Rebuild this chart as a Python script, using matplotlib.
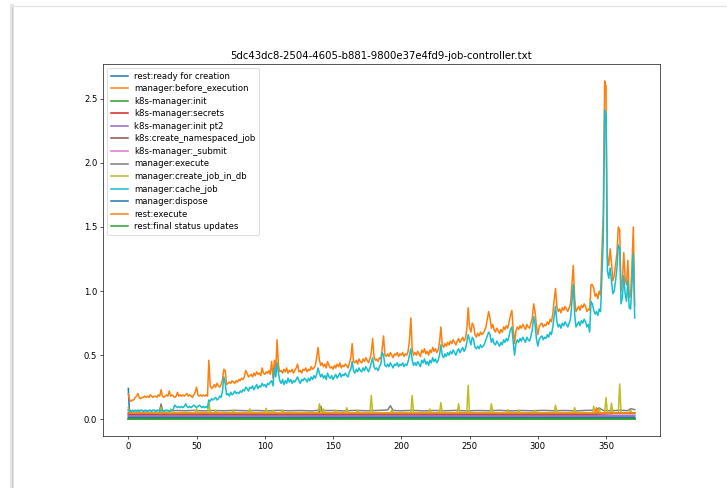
# Timing breakdown of job-controller log, one line per step

import numpy as np
import matplotlib.pyplot as plt
from matplotlib.lines import Line2D


# Data ~~~~~~~~~~~~~~~~~~~~~~~~~~~~~~~~~~~~~~~~~~~~~~~~~~~~~~~~~~~~~~~~~~~~~~~~~~~~~

title = '5dc43dc8-2504-4605-b881-9800e37e4fd9-job-controller.txt'

labels = ['rest:ready for creation', 'manager:before_execution', 'k8s-manager:init',
          'k8s-manager:secrets', 'k8s-manager:init pt2', 'k8s:create_namespaced_job',
          'k8s-manager:_submit', 'manager:execute', 'manager:create_job_in_db',
          'manager:cache_job', 'manager:dispose', 'rest:execute', 'rest:final status updates']

# manager:before_execution, one value per run (0..371)
before_execution = [
    0.20, 0.15, 0.14, 0.15, 0.15, 0.17, 0.18, 0.20, 0.17, 0.16,
    0.17, 0.17, 0.18, 0.17, 0.18, 0.17, 0.19, 0.18, 0.17, 0.18,
    0.18, 0.17, 0.19, 0.18, 0.23, 0.18, 0.17, 0.18, 0.19, 0.18,
    0.22, 0.18, 0.19, 0.18, 0.17, 0.18, 0.21, 0.18, 0.19, 0.18,
    0.19, 0.18, 0.19, 0.20, 0.18, 0.19, 0.18, 0.17, 0.19, 0.21,
    0.25, 0.19, 0.18, 0.19, 0.18, 0.19, 0.18, 0.19, 0.18, 0.46,
    0.26, 0.24, 0.25, 0.27, 0.25, 0.28, 0.26, 0.25, 0.27, 0.31,
    0.39, 0.38, 0.27, 0.28, 0.29, 0.28, 0.30, 0.29, 0.28, 0.30,
    0.29, 0.31, 0.30, 0.32, 0.31, 0.33, 0.38, 0.36, 0.33, 0.34,
    0.35, 0.33, 0.36, 0.34, 0.37, 0.35, 0.36, 0.34, 0.40, 0.36,
    0.35, 0.37, 0.36, 0.38, 0.35, 0.45, 0.32, 0.46, 0.38, 0.62,
    0.42, 0.37, 0.38, 0.36, 0.39, 0.37, 0.40, 0.36, 0.38, 0.37,
    0.39, 0.36, 0.38, 0.40, 0.43, 0.37, 0.38, 0.36, 0.39, 0.38,
    0.40, 0.37, 0.39, 0.38, 0.41, 0.39, 0.40, 0.42, 0.48, 0.56,
    0.46, 0.42, 0.44, 0.41, 0.43, 0.40, 0.45, 0.42, 0.40, 0.41,
    0.39, 0.42, 0.40, 0.43, 0.41, 0.44, 0.40, 0.42, 0.41, 0.43,
    0.42, 0.40, 0.44, 0.48, 0.59, 0.45, 0.44, 0.46, 0.43, 0.47,
    0.45, 0.44, 0.47, 0.45, 0.48, 0.46, 0.44, 0.47, 0.52, 0.63,
    0.49, 0.46, 0.47, 0.45, 0.48, 0.47, 0.55, 0.65, 0.50, 0.49,
    0.51, 0.49, 0.52, 0.50, 0.48, 0.51, 0.50, 0.52, 0.49, 0.51,
    0.50, 0.52, 0.49, 0.51, 0.50, 0.53, 0.62, 0.79, 0.55, 0.50,
    0.52, 0.50, 0.53, 0.51, 0.49, 0.54, 0.52, 0.55, 0.51, 0.53,
    0.50, 0.54, 0.52, 0.56, 0.53, 0.55, 0.52, 0.54, 0.60, 0.72,
    0.58, 0.56, 0.59, 0.57, 0.60, 0.58, 0.61, 0.59, 0.62, 0.60,
    0.58, 0.61, 0.63, 0.60, 0.62, 0.64, 0.61, 0.63, 0.70, 0.87,
    0.72, 0.68, 0.75, 0.73, 0.66, 0.64, 0.67, 0.65, 0.68, 0.66,
    0.67, 0.69, 0.72, 0.78, 0.84, 0.79, 0.71, 0.74, 0.70, 0.68,
    0.71, 0.69, 0.67, 0.70, 0.68, 0.72, 0.70, 0.73, 0.71, 0.76,
    0.81, 0.85, 0.70, 0.59, 0.69, 0.72, 0.70, 0.73, 0.71, 0.74,
    0.72, 0.70, 0.74, 0.72, 0.71, 0.75, 0.79, 0.90, 0.84, 0.73,
    0.66, 0.72, 0.74, 0.75, 0.72, 0.74, 0.73, 0.76, 0.74, 0.78,
    0.76, 0.82, 0.93, 1.02, 0.88, 0.84, 0.86, 0.83, 0.87, 0.85,
    0.88, 0.86, 0.84, 0.87, 0.90, 1.05, 1.20, 0.95, 0.84, 0.86,
    0.88, 0.85, 0.89, 0.87, 0.90, 0.88, 0.84, 0.86, 0.85, 1.05,
    1.05, 1.02, 0.96, 0.98, 0.94, 1.00, 0.97, 1.32, 1.60, 2.64,
    2.60, 1.27, 1.20, 1.33, 1.22, 1.08, 1.12, 1.20, 1.30, 1.50,
    1.48, 1.00, 1.08, 1.30, 1.10, 1.05, 1.24, 0.95, 0.96, 1.20,
    1.50, 0.89]

# manager:cache_job, one value per run (0..371)
cache_job = [
    0.07, 0.06, 0.06, 0.07, 0.06, 0.07, 0.06, 0.07, 0.06, 0.07,
    0.07, 0.06, 0.07, 0.07, 0.06, 0.07, 0.07, 0.06, 0.07, 0.07,
    0.06, 0.07, 0.07, 0.06, 0.07, 0.07, 0.06, 0.07, 0.07, 0.07,
    0.06, 0.07, 0.07, 0.08, 0.11, 0.10, 0.09, 0.10, 0.09, 0.10,
    0.09, 0.10, 0.12, 0.10, 0.09, 0.10, 0.09, 0.10, 0.11, 0.10,
    0.09, 0.10, 0.11, 0.10, 0.09, 0.10, 0.09, 0.10, 0.09, 0.15,
    0.14, 0.16, 0.15, 0.16, 0.17, 0.15, 0.16, 0.18, 0.17, 0.22,
    0.33, 0.28, 0.19, 0.20, 0.18, 0.21, 0.19, 0.20, 0.22, 0.20,
    0.21, 0.20, 0.22, 0.21, 0.23, 0.22, 0.25, 0.24, 0.22, 0.25,
    0.24, 0.26, 0.23, 0.25, 0.27, 0.24, 0.26, 0.25, 0.28, 0.26,
    0.27, 0.25, 0.28, 0.27, 0.29, 0.30, 0.26, 0.40, 0.33, 0.44,
    0.36, 0.30, 0.28, 0.31, 0.27, 0.30, 0.28, 0.32, 0.29, 0.31,
    0.28, 0.30, 0.29, 0.31, 0.33, 0.30, 0.28, 0.31, 0.30, 0.32,
    0.31, 0.29, 0.32, 0.30, 0.33, 0.31, 0.34, 0.32, 0.35, 0.40,
    0.36, 0.33, 0.35, 0.32, 0.34, 0.31, 0.36, 0.33, 0.32, 0.34,
    0.31, 0.33, 0.35, 0.32, 0.34, 0.36, 0.33, 0.35, 0.34, 0.36,
    0.34, 0.33, 0.37, 0.39, 0.45, 0.38, 0.36, 0.39, 0.37, 0.40,
    0.38, 0.37, 0.40, 0.38, 0.41, 0.39, 0.37, 0.40, 0.44, 0.48,
    0.41, 0.39, 0.40, 0.38, 0.41, 0.43, 0.52, 0.50, 0.42, 0.41,
    0.43, 0.41, 0.44, 0.42, 0.40, 0.43, 0.42, 0.44, 0.41, 0.43,
    0.42, 0.44, 0.41, 0.43, 0.42, 0.45, 0.50, 0.55, 0.46, 0.42,
    0.44, 0.42, 0.45, 0.43, 0.41, 0.46, 0.44, 0.47, 0.43, 0.45,
    0.42, 0.46, 0.44, 0.48, 0.45, 0.47, 0.44, 0.46, 0.50, 0.58,
    0.50, 0.48, 0.51, 0.49, 0.52, 0.50, 0.53, 0.51, 0.54, 0.52,
    0.50, 0.53, 0.55, 0.52, 0.54, 0.56, 0.53, 0.55, 0.60, 0.66,
    0.62, 0.58, 0.64, 0.62, 0.56, 0.55, 0.57, 0.55, 0.58, 0.56,
    0.57, 0.59, 0.62, 0.65, 0.68, 0.66, 0.60, 0.63, 0.59, 0.58,
    0.61, 0.59, 0.57, 0.60, 0.58, 0.62, 0.60, 0.63, 0.61, 0.65,
    0.70, 0.72, 0.60, 0.50, 0.59, 0.62, 0.60, 0.63, 0.61, 0.64,
    0.62, 0.60, 0.64, 0.62, 0.61, 0.65, 0.70, 0.80, 0.74, 0.63,
    0.57, 0.62, 0.64, 0.65, 0.62, 0.64, 0.63, 0.66, 0.64, 0.68,
    0.66, 0.72, 0.80, 0.88, 0.76, 0.72, 0.74, 0.71, 0.75, 0.73,
    0.76, 0.74, 0.72, 0.75, 0.78, 0.92, 1.05, 0.82, 0.72, 0.74,
    0.76, 0.73, 0.77, 0.75, 0.78, 0.76, 0.72, 0.74, 0.68, 0.92,
    0.90, 0.85, 0.82, 0.84, 0.81, 0.86, 0.84, 1.12, 1.40, 2.41,
    2.38, 1.16, 1.10, 1.18, 1.08, 0.98, 1.00, 1.08, 1.18, 1.36,
    1.33, 0.90, 0.95, 1.12, 0.98, 0.92, 1.08, 0.87, 0.86, 1.05,
    1.29, 0.79]

# the small steps hardly move, so only the runs where something changes are kept
ready_x = [0, 1, 371]
ready_y = [0.24, 0.010, 0.008]

init_x = [0, 100, 200, 300, 371]
init_y = [0.004, 0.004, 0.004, 0.004, 0.004]

secrets_x = [0, 50, 100, 150, 200, 250, 300, 340, 355, 360, 371]
secrets_y = [0.038, 0.036, 0.037, 0.036, 0.037, 0.036, 0.037, 0.038, 0.045, 0.050, 0.048]

initpt2_x = [0, 100, 200, 300, 371]
initpt2_y = [0.030, 0.029, 0.030, 0.029, 0.031]

namespaced_x = [0, 20, 23, 24, 25, 60, 100, 139, 140, 141, 142, 180, 220, 260, 300, 340, 371]
namespaced_y = [0.050, 0.045, 0.046, 0.115, 0.045, 0.046, 0.045, 0.045, 0.060, 0.100, 0.046,
                0.045, 0.046, 0.045, 0.046, 0.047, 0.050]

submit_x = [0, 100, 200, 300, 371]
submit_y = [0.022, 0.021, 0.022, 0.021, 0.023]

execute_x = [0, 3, 8, 13, 18, 23, 24, 25, 30, 36, 42, 48, 55, 62, 70, 78,
             86, 94, 102, 110, 118, 126, 134, 140, 141, 142, 150, 158, 166, 174, 182, 190,
             192, 194, 200, 208, 216, 224, 232, 240, 248, 256, 264, 272, 280, 288, 296, 304,
             312, 320, 328, 336, 342, 345, 348, 354, 360, 366, 368, 371]
execute_y = [0.072, 0.066, 0.068, 0.065, 0.068, 0.066, 0.118, 0.067, 0.065, 0.068, 0.066, 0.069, 0.065, 0.068, 0.066, 0.069,
             0.066, 0.068, 0.065, 0.069, 0.066, 0.068, 0.065, 0.070, 0.098, 0.067, 0.068, 0.065, 0.069, 0.066, 0.068, 0.072,
             0.105, 0.068, 0.066, 0.069, 0.065, 0.068, 0.066, 0.069, 0.065, 0.068, 0.066, 0.069, 0.065, 0.068, 0.066, 0.069,
             0.066, 0.068, 0.065, 0.069, 0.070, 0.088, 0.068, 0.066, 0.070, 0.067, 0.082, 0.075]

create_db_x = [0, 1, 2, 12, 23, 24, 25, 30, 31, 32, 40, 49, 50, 51, 58, 59, 60,
               63, 64, 65, 76, 77, 78, 88, 89, 90, 100, 101, 102, 105, 106, 107, 112, 113, 114,
               125, 139, 140, 141, 142, 143, 144, 151, 152, 153, 159, 160, 161, 167, 168, 169,
               177, 178, 179, 192, 193, 194, 207, 208, 209, 220, 221, 222, 228, 229, 230,
               241, 242, 243, 248, 249, 250, 265, 266, 267, 277, 278, 279, 285, 286, 287,
               297, 298, 299, 312, 313, 314, 326, 327, 328, 340, 341, 342, 344, 345, 346,
               349, 350, 351, 353, 354, 355, 359, 360, 361, 367, 368, 369, 371]
create_db_y = [0.090, 0.050, 0.052, 0.049, 0.050, 0.090, 0.050, 0.051, 0.080, 0.050, 0.052, 0.050, 0.080, 0.050, 0.051, 0.140, 0.050,
               0.050, 0.070, 0.050, 0.051, 0.070, 0.050, 0.050, 0.080, 0.050, 0.051, 0.085, 0.050, 0.050, 0.070, 0.050, 0.050, 0.070, 0.050,
               0.052, 0.050, 0.120, 0.060, 0.050, 0.080, 0.050, 0.050, 0.070, 0.050, 0.050, 0.090, 0.050, 0.050, 0.070, 0.050,
               0.050, 0.185, 0.050, 0.050, 0.070, 0.050, 0.050, 0.185, 0.050, 0.050, 0.080, 0.050, 0.050, 0.130, 0.050,
               0.050, 0.120, 0.050, 0.050, 0.265, 0.050, 0.050, 0.120, 0.050, 0.050, 0.075, 0.050, 0.050, 0.070, 0.050,
               0.050, 0.070, 0.050, 0.050, 0.110, 0.050, 0.050, 0.090, 0.050, 0.050, 0.100, 0.050, 0.050, 0.080, 0.050,
               0.050, 0.170, 0.050, 0.050, 0.125, 0.050, 0.050, 0.275, 0.050, 0.050, 0.070, 0.050, 0.050]

dispose_x = [0, 100, 200, 300, 371]
dispose_y = [0.015, 0.014, 0.015, 0.014, 0.015]

rest_execute_x = [0, 30, 60, 100, 150, 200, 250, 300, 340, 342, 343, 344, 371]
rest_execute_y = [0.048, 0.045, 0.046, 0.045, 0.046, 0.045, 0.046, 0.045, 0.046, 0.046, 0.090, 0.047, 0.050]

final_x = [0, 100, 200, 300, 371]
final_y = [0.001, 0.001, 0.001, 0.001, 0.001]


# Plot ~~~~~~~~~~~~~~~~~~~~~~~~~~~~~~~~~~~~~~~~~~~~~~~~~~~~~~~~~~~~~~~~~~~~~~~~~~~~~

runs = np.arange(len(before_execution))

# the reference is a shrunken screenshot, so a low dpi keeps default sizes in proportion
plt.rcParams['font.size'] = 10.5
plt.rcParams['lines.linewidth'] = 1.9
plt.rcParams['legend.labelspacing'] = 0.42

fig = plt.figure(figsize=(727 / 58, 488 / 58), dpi=58)

# grey left and top edge of the card the chart sits on
card_left = 12 / 727
card_top = (488 - 6) / 488
fig.add_artist(Line2D([card_left, card_left], [0, card_top], color='#e6e6e6', linewidth=5))
fig.add_artist(Line2D([card_left, card_left], [0, card_top], color='#cccccc', linewidth=1.5))
fig.add_artist(Line2D([card_left, 1], [card_top, card_top], color='#e3e3e3', linewidth=1.5))

ax = fig.add_axes([103 / 727, 52 / 488, 557 / 727, 372 / 488])

ax.plot(ready_x, ready_y, color='C0', label=labels[0])
ax.plot(runs, before_execution, color='C1', label=labels[1])
ax.plot(init_x, init_y, color='C2', label=labels[2])
ax.plot(secrets_x, secrets_y, color='C3', label=labels[3])
ax.plot(initpt2_x, initpt2_y, color='C4', label=labels[4])
ax.plot(namespaced_x, namespaced_y, color='C5', label=labels[5])
ax.plot(submit_x, submit_y, color='C6', label=labels[6])
ax.plot(execute_x, execute_y, color='C7', label=labels[7])
ax.plot(create_db_x, create_db_y, color='C8', label=labels[8])
ax.plot(runs, cache_job, color='C9', label=labels[9])
ax.plot(dispose_x, dispose_y, color='C0', label=labels[10])
ax.plot(rest_execute_x, rest_execute_y, color='C1', label=labels[11])
ax.plot(final_x, final_y, color='C2', label=labels[12])

ax.set_title(title, fontsize=12.6)
ax.legend(loc='upper left')

fig.savefig('out.png', dpi=58, facecolor='white')
